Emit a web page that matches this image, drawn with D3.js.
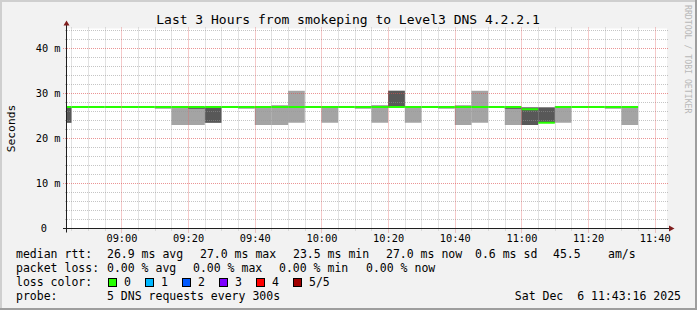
<!DOCTYPE html>
<html>
<head>
<meta charset="utf-8">
<script src="https://cdn.jsdelivr.net/npm/d3@7"></script>
<style>
body { margin: 0; background: #f2f2f2; }
svg text { font-family: "DejaVu Sans Mono", monospace; fill: #000; }
</style>
</head>
<body>
<script>
// 5 minute steps, smoke = sorted pings (min, 2nd, 4th, max), median line
var stepTimes = ["08:40", "08:45", "08:50", "08:55", "09:00", "09:05", "09:10", "09:15", "09:20", "09:25",
    "09:30", "09:35", "09:40", "09:45", "09:50", "09:55", "10:00", "10:05", "10:10", "10:15",
    "10:20", "10:25", "10:30", "10:35", "10:40", "10:45", "10:50", "10:55", "11:00", "11:05",
    "11:10", "11:15", "11:20", "11:25", "11:30"];
var pingMin = [23.5, 27.0, 27.0, 27.0, 27.0, 27.0, 26.6, 23.0, 23.0, 23.5,
    27.0, 26.6, 23.0, 23.0, 23.5, 27.0, 23.5, 27.0, 26.6, 23.5,
    27.0, 23.5, 27.0, 26.6, 23.0, 23.5, 27.0, 23.0, 23.0, 23.5,
    23.5, 27.0, 27.0, 26.6, 23.0];
var pingLow = [23.5, 27.0, 27.0, 27.0, 27.0, 27.0, 27.0, 27.0, 26.6, 23.5,
    27.0, 27.0, 27.0, 27.0, 27.0, 27.0, 27.0, 27.0, 27.0, 27.0,
    27.0, 27.0, 27.0, 27.0, 27.0, 27.0, 27.0, 26.6, 23.0, 23.5,
    27.0, 27.0, 27.0, 27.0, 27.0];
var pingHigh = [27.0, 27.0, 27.0, 27.0, 27.0, 27.0, 27.0, 27.0, 27.0, 27.0,
    27.0, 27.0, 27.0, 27.0, 27.0, 27.0, 27.0, 27.0, 27.0, 27.3,
    30.6, 27.0, 27.0, 27.0, 27.0, 27.0, 27.0, 26.9, 26.9, 26.9,
    27.0, 27.0, 27.0, 27.0, 27.0];
var pingMax = [27.0, 27.0, 27.0, 27.0, 27.0, 27.0, 27.0, 27.0, 27.0, 27.0,
    27.0, 27.0, 27.0, 27.4, 30.6, 27.0, 27.0, 27.0, 27.0, 27.3,
    30.6, 27.0, 27.0, 27.0, 27.4, 30.6, 27.0, 26.9, 26.9, 26.9,
    27.0, 27.0, 27.0, 27.0, 27.0];
var medianRtt = [27.0, 27.0, 27.0, 27.0, 27.0, 27.0, 27.0, 27.0, 27.0, 27.0,
    27.0, 27.0, 27.0, 27.0, 27.0, 27.0, 27.0, 27.0, 27.0, 27.0,
    27.0, 27.0, 27.0, 27.0, 27.0, 27.0, 27.0, 27.0, 26.5, 23.5,
    27.0, 27.0, 27.0, 27.0, 27.0];

var yTickValues = [0, 10, 20, 30, 40];
var yTickLabels = ["0", "10 m", "20 m", "30 m", "40 m"];
var xTickLabels = ["09:00", "09:20", "09:40", "10:00", "10:20", "10:40", "11:00", "11:20", "11:40"];

var lossLabels = ["0", "1", "2", "3", "4", "5/5"];
var lossColors = ["#26ff00", "#00b8ff", "#0059ff", "#7e00ff", "#ff0000", "#a00000"];
var rttStats = ["26.9 ms avg", "27.0 ms max", "23.5 ms min", "27.0 ms now", "0.6 ms sd", "45.5", "am/s"];
var lossStats = ["0.00 % avg", "0.00 % max", "0.00 % min", "0.00 % now"];

var width = 697, height = 310;
var plotLeft = 67, plotRight = 667, plotTop = 28.5, plotBottom = 228.5;
var smokeLight = "#a4a4a4", smokeDark = "#585858";
var minorGrid = "rgba(150,150,150,0.55)", majorGrid = "rgba(222,79,79,0.6)";

var parseTime = d3.timeParse("%H:%M:%S");
var parseStep = d3.timeParse("%H:%M");

var svg = d3.select("body").append("svg")
    .attr("width", width)
    .attr("height", height);

// background + 3d border
svg.append("rect").attr("width", width).attr("height", height).style("fill", "#f2f2f2");
svg.append("path").attr("d", "M0,0H" + width + "V2H2V" + height + "H0Z").style("fill", "#cfcfcf");
svg.append("path").attr("d", "M" + width + "," + height + "H0V" + (height - 2) + "H" + (width - 2) + "V0H" + width + "Z").style("fill", "#9e9e9e");

var xScale = d3.scaleTime()
    .domain([parseTime("08:43:40"), parseTime("11:43:40")])
    .range([plotLeft, plotRight]);

var yScale = d3.scaleLinear()
    .domain([0, 44.44])
    .range([plotBottom, plotTop]);

svg.append("rect")
    .attr("x", plotLeft).attr("y", plotTop)
    .attr("width", plotRight - plotLeft).attr("height", plotBottom - plotTop)
    .style("fill", "#ffffff");

svg.append("clipPath").attr("id", "plotclip")
    .append("rect")
    .attr("x", plotLeft).attr("y", plotTop)
    .attr("width", plotRight - plotLeft).attr("height", plotBottom - plotTop);

var steps = stepTimes.map(function (t, i) {
    var t0 = parseStep(t);
    return {
        t0: t0,
        t1: d3.timeMinute.offset(t0, 5),
        min: pingMin[i], low: pingLow[i], high: pingHigh[i], max: pingMax[i],
        median: medianRtt[i]
    };
});

var plot = svg.append("g").attr("clip-path", "url(#plotclip)");

// outer smoke (ping1..ping5)
plot.selectAll(".smoke1")
    .data(steps.filter(function (d) { return d.max > d.min; }))
    .enter().append("rect")
    .attr("class", "smoke1")
    .attr("x", function (d) { return xScale(d.t0); })
    .attr("width", function (d) { return xScale(d.t1) - xScale(d.t0); })
    .attr("y", function (d) { return yScale(d.max); })
    .attr("height", function (d) { return yScale(d.min) - yScale(d.max); })
    .style("fill", smokeLight);

// inner smoke (ping2..ping4)
plot.selectAll(".smoke2")
    .data(steps.filter(function (d) { return d.high > d.low; }))
    .enter().append("rect")
    .attr("class", "smoke2")
    .attr("x", function (d) { return xScale(d.t0); })
    .attr("width", function (d) { return xScale(d.t1) - xScale(d.t0); })
    .attr("y", function (d) { return yScale(d.high); })
    .attr("height", function (d) { return yScale(d.low) - yScale(d.high); })
    .style("fill", smokeDark);

// grid
var minorX = xScale.ticks(d3.timeMinute.every(5));
var majorX = xScale.ticks(d3.timeMinute.every(20));
var minorY = d3.range(0, 45, 2);

function px(v) { return Math.round(v) + 0.5; }

var grid = svg.append("g").style("stroke-dasharray", "1,1").style("stroke-width", 1);

grid.selectAll(".gy")
    .data(minorY.filter(function (v) { return v % 10 !== 0; }))
    .enter().append("line")
    .attr("x1", plotLeft - 2).attr("x2", plotRight + 1)
    .attr("y1", function (d) { return px(yScale(d)); })
    .attr("y2", function (d) { return px(yScale(d)); })
    .style("stroke", minorGrid);

grid.selectAll(".gx")
    .data(minorX.filter(function (d) { return d.getMinutes() % 20 !== 0; }))
    .enter().append("line")
    .attr("x1", function (d) { return px(xScale(d)); })
    .attr("x2", function (d) { return px(xScale(d)); })
    .attr("y1", plotTop - 1).attr("y2", plotBottom + 2)
    .style("stroke", minorGrid);

grid.selectAll(".my")
    .data(yTickValues.filter(function (v) { return v > 0; }))
    .enter().append("line")
    .attr("x1", plotLeft - 4).attr("x2", plotRight + 1)
    .attr("y1", function (d) { return px(yScale(d)); })
    .attr("y2", function (d) { return px(yScale(d)); })
    .style("stroke", majorGrid);

grid.selectAll(".mx")
    .data(majorX)
    .enter().append("line")
    .attr("x1", function (d) { return px(xScale(d)); })
    .attr("x2", function (d) { return px(xScale(d)); })
    .attr("y1", plotTop - 1).attr("y2", plotBottom + 4)
    .style("stroke", majorGrid);

// median line, coloured by loss (all 0 loss here)
var halfWidth = yScale.invert(plotBottom - 1);
plot.selectAll(".median")
    .data(steps)
    .enter().append("rect")
    .attr("class", "median")
    .attr("x", function (d) { return xScale(d.t0); })
    .attr("width", function (d) { return xScale(d.t1) - xScale(d.t0); })
    .attr("y", function (d) { return yScale(d.median + halfWidth); })
    .attr("height", function (d) { return yScale(d.median - halfWidth) - yScale(d.median + halfWidth); })
    .style("fill", lossColors[0]);

// axes
svg.append("line")
    .attr("x1", plotLeft - 4).attr("x2", plotRight + 4)
    .attr("y1", plotBottom).attr("y2", plotBottom)
    .style("stroke", "#1f1f1f").style("stroke-width", 1);
svg.append("line")
    .attr("x1", plotLeft - 0.5).attr("x2", plotLeft - 0.5)
    .attr("y1", plotBottom + 4).attr("y2", plotTop - 4)
    .style("stroke", "#1f1f1f").style("stroke-width", 1);
svg.append("path")
    .attr("d", "M" + (plotRight + 2) + "," + (plotBottom - 3) + "L" + (plotRight + 7.5) + "," + plotBottom + "L" + (plotRight + 2) + "," + (plotBottom + 3) + "Z")
    .style("fill", "#801f1f");
svg.append("path")
    .attr("d", "M" + (plotLeft - 3.5) + "," + (plotTop - 3) + "L" + (plotLeft - 0.5) + "," + (plotTop - 8) + "L" + (plotLeft + 2.5) + "," + (plotTop - 3) + "Z")
    .style("fill", "#801f1f");

// tick labels
svg.selectAll(".ylab")
    .data(yTickValues)
    .enter().append("text")
    .attr("x", function (d, i) { return d === 0 ? 47 : 60.5; })
    .attr("y", function (d) { return yScale(d) + 3.5; })
    .attr("text-anchor", "end")
    .style("font-size", "10.3px")
    .text(function (d, i) { return yTickLabels[i]; });

svg.selectAll(".xlab")
    .data(xTickLabels)
    .enter().append("text")
    .attr("x", function (d) { return xScale(parseStep(d)) + 0.5; })
    .attr("y", 241.5)
    .attr("text-anchor", "middle")
    .style("font-size", "10.3px")
    .text(function (d) { return d; });

// titles
svg.append("text")
    .attr("x", 348).attr("y", 24)
    .attr("text-anchor", "middle")
    .style("font-size", "13px")
    .text("Last 3 Hours from smokeping to Level3 DNS 4.2.2.1");

svg.append("text")
    .attr("transform", "translate(15," + ((plotTop + plotBottom) / 2) + ") rotate(-90)")
    .attr("text-anchor", "middle")
    .style("font-size", "11.3px")
    .text("Seconds");

svg.append("text")
    .attr("transform", "translate(684.5,5) rotate(90)")
    .style("font-size", "8.2px")
    .style("fill", "#b8b8b8")
    .text("RRDTOOL / TOBI OETIKER");

// legend
var legendFont = "11.5px";
var rttX = [107, 200, 293, 386, 475, 553, 608];
var lossX = [107, 193, 279, 366];

function legendText(x, y, s) {
    svg.append("text")
        .attr("x", x).attr("y", y)
        .style("font-size", legendFont)
        .style("white-space", "pre")
        .text(s);
}

legendText(16, 258, "median rtt:");
rttStats.forEach(function (s, i) { legendText(rttX[i], 258, s); });
legendText(16, 272, "packet loss:");
lossStats.forEach(function (s, i) { legendText(lossX[i], 272, s); });
legendText(16, 286, "loss color:");
lossLabels.forEach(function (s, i) {
    svg.append("rect")
        .attr("x", 108.5 + i * 37).attr("y", 278.5)
        .attr("width", 8).attr("height", 8)
        .style("fill", lossColors[i])
        .style("stroke", "#000").style("stroke-width", 1);
    legendText(124 + i * 37, 286, s);
});
legendText(16, 300, "probe:");
legendText(107, 300, "5 DNS requests every 300s");
svg.append("text")
    .attr("x", 681).attr("y", 300)
    .attr("text-anchor", "end")
    .style("font-size", legendFont)
    .style("white-space", "pre")
    .text("Sat Dec  6 11:43:16 2025");
</script>
</body>
</html>
